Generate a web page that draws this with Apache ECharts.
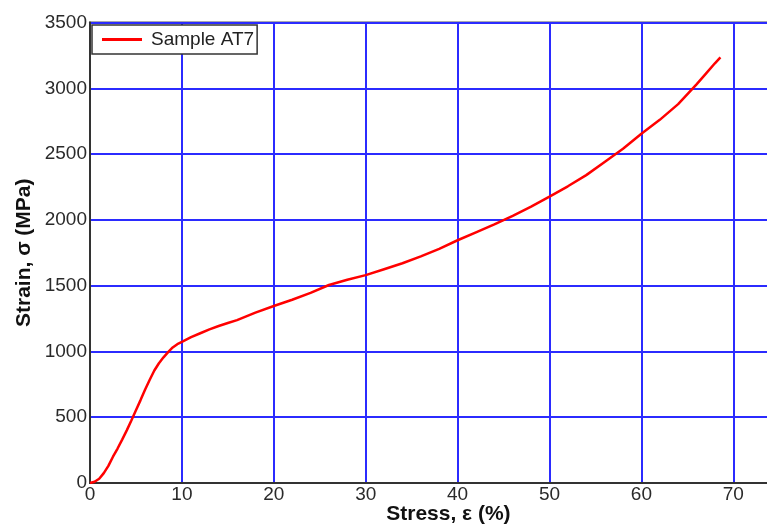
<!DOCTYPE html>
<html>
<head>
<meta charset="utf-8">
<script src="https://cdn.jsdelivr.net/npm/echarts@6/dist/echarts.min.js"></script>
<style>html,body{margin:0;padding:0;background:#fff}#c{width:767px;height:526px}</style>
</head>
<body>
<div id="c"></div>
<script>
const seriesName = 'Sample AT7';
const strainPct = [0,0.5,1,1.5,2,2.5,3,3.5,4,4.5,5,5.5,6,6.5,7,7.5,8,8.5,9,9.5,10,11,12,13,14,15,16,18,20,22,24,26,28,30,32,34,36,38,40,42,44,46,48,50,52,54,56,58,60,62,64,66,67,68,68.6];
const stressMPa = [0,10,32,75,130,200,262,330,400,475,553,630,710,785,855,910,955,995,1030,1055,1072,1108,1138,1168,1193,1216,1238,1295,1345,1393,1445,1505,1545,1580,1625,1670,1722,1780,1845,1905,1965,2030,2100,2176,2255,2340,2440,2540,2655,2760,2880,3030,3110,3190,3235];
const xTicks = [0,10,20,30,40,50,60,70];
const yTicks = [0,500,1000,1500,2000,2500,3000,3500];

const chart = echarts.init(document.getElementById('c'));
const labelFont = {fontFamily:'Liberation Sans, Arial, sans-serif', fontSize:19, color:'#2a2a2a'};
const titleFont = {fontFamily:'Liberation Sans, Arial, sans-serif', fontSize:21, fontWeight:'bold', color:'#111'};
chart.setOption({
  animation:false,
  backgroundColor:'#fff',
  grid:{left:90, top:22.5, width:716.8, height:460.5, containLabel:false, outerBoundsMode:'none', show:true, borderColor:'#555', borderWidth:2, backgroundColor:'transparent'},
  legend:{
    left:92, top:25, orient:'horizontal',
    padding:[5,3,5,10],
    borderColor:'#333', borderWidth:1.5, backgroundColor:'#fff',
    icon:'rect', itemWidth:40, itemHeight:3,
    textStyle:{fontFamily:'Liberation Sans, Arial, sans-serif', fontSize:19, color:'#222', padding:[0,0,0,4]},
    data:[seriesName]
  },
  xAxis:{
    type:'value', min:0, max:78, interval:10,
    name:'Stress, ε (%)', nameLocation:'middle', nameGap:21, nameMoveOverlap:false,
    nameTextStyle:titleFont,
    axisLine:{show:true, lineStyle:{color:'#333', width:2}},
    axisTick:{show:false},
    axisLabel:Object.assign({margin:2, formatter:v=>xTicks.includes(v)?String(v):''}, labelFont),
    splitLine:{show:true, lineStyle:{color:'#2b2bff', width:2}}
  },
  yAxis:{
    type:'value', min:0, max:3500, interval:500,
    name:'Strain, σ (MPa)', nameLocation:'middle', nameGap:55, nameMoveOverlap:false,
    nameTextStyle:titleFont,
    axisLine:{show:true, lineStyle:{color:'#333', width:2}},
    axisTick:{show:false},
    axisLabel:Object.assign({margin:3, formatter:v=>yTicks.includes(v)?String(v):''}, labelFont),
    splitLine:{show:true, lineStyle:{color:'#2b2bff', width:2}}
  },
  series:[{
    name:seriesName, type:'line', symbol:'none', smooth:false,
    data:strainPct.map((x,i)=>[x, stressMPa[i]]),
    lineStyle:{color:'#ff0000', width:2.5},
    itemStyle:{color:'#ff0000'}
  }]
});
</script>
</body>
</html>
